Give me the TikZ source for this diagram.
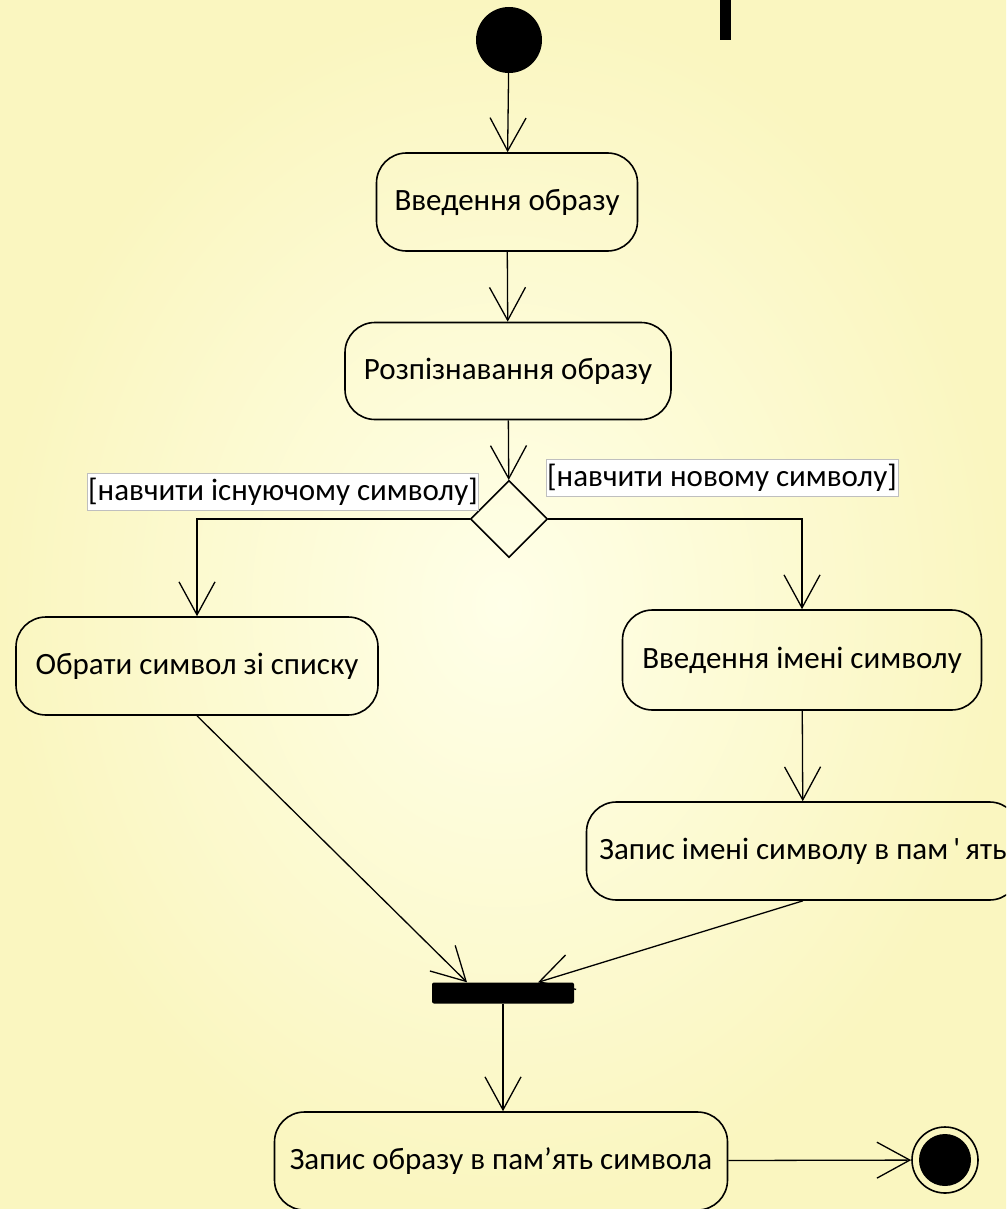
\documentclass[tikz,border=0pt]{standalone}
\usepackage{fontspec}
\setmainfont{Carlito}
\usetikzlibrary{arrows.meta,shapes.geometric}
\definecolor{bgin}{RGB}{255,255,232}
\definecolor{bgout}{RGB}{250,246,192}
\begin{document}
\begin{tikzpicture}[x=1pt,y=-1pt,
    action/.style={draw=black, line width=1.6pt, rounded corners=30pt, align=center,
      font=\fontsize{31}{36}\selectfont, inner sep=0pt},
    guard/.style={fill=white, draw=black!25, line width=0.6pt,
      font=\fontsize{31}{36}\selectfont, inner sep=1pt},
    flow/.style={line width=1.3pt, -{Straight Barb[length=33pt,width=36pt]}}]
      \useasboundingbox (0,0) rectangle (1006,1209);
      \clip (0,0) rectangle (1006,1209);
      \shade[inner color=bgin, outer color=bgout] (0,0) rectangle (1006,1209);
      \fill[black] (720,0) rectangle (731,40);

      \node[circle, fill=black, minimum size=66pt, inner sep=0pt] (start) at (509,40) {};
      \node[action, minimum width=261pt, minimum height=98pt] (input) at (507,202) {Введення образу};
      \node[action, minimum width=326pt, minimum height=97pt] (recog) at (508,371) {Розпізнавання образу};
      \node[diamond, draw=black, line width=1.6pt, minimum width=77pt, minimum height=77pt,
        inner sep=0pt] (choice) at (509,519) {};
      \node[action, minimum width=362pt, minimum height=98pt] (pick) at (197,666) {Обрати символ зі списку};
      \node[action, minimum width=359pt, minimum height=100pt] (name) at (802,660) {Введення імені символу};
      \node[action, minimum width=433pt, minimum height=98pt] (store) at (803,851)
        {Запис імені символу в пам\,\textquotesingle\,ять};
      \node[fill=black, rounded corners=2pt, minimum width=142pt, minimum height=21pt,
        inner sep=0pt] (join) at (503,993) {};
      \node[action, minimum width=453pt, minimum height=98pt] (save) at (501,1161)
        {Запис образу в пам'ять символа};
      \node[circle, draw=black, line width=1.6pt, minimum size=66pt, inner sep=0pt] (finish) at (945,1160) {};
      \fill[black] (finish) circle (26pt);

      \draw[flow] (start) -- (input);
      \draw[flow] (input) -- (recog);
      \draw[flow] (recog) -- (choice);
      \draw[flow] (choice.west) -| (pick.north);
      \draw[flow] (choice.east) -| (name.north);
      \draw[flow] (name) -- (store);
      \draw[flow] (pick.south) -- ([xshift=-36pt]join.north);
      \draw[flow] (store.south) -- ([xshift=35pt]join.north);
      \draw[flow] (join.south) -- (join.south |- save.north);
      \draw[flow] (save) -- (finish);

      \node[guard, minimum width=382pt, minimum height=37pt] (old) at (283,492) {[навчити існуючому символу]};
      \node[guard, minimum width=350pt, minimum height=37pt] (new) at (722,478) {[навчити новому символу]};
    \end{tikzpicture}
\end{document}
